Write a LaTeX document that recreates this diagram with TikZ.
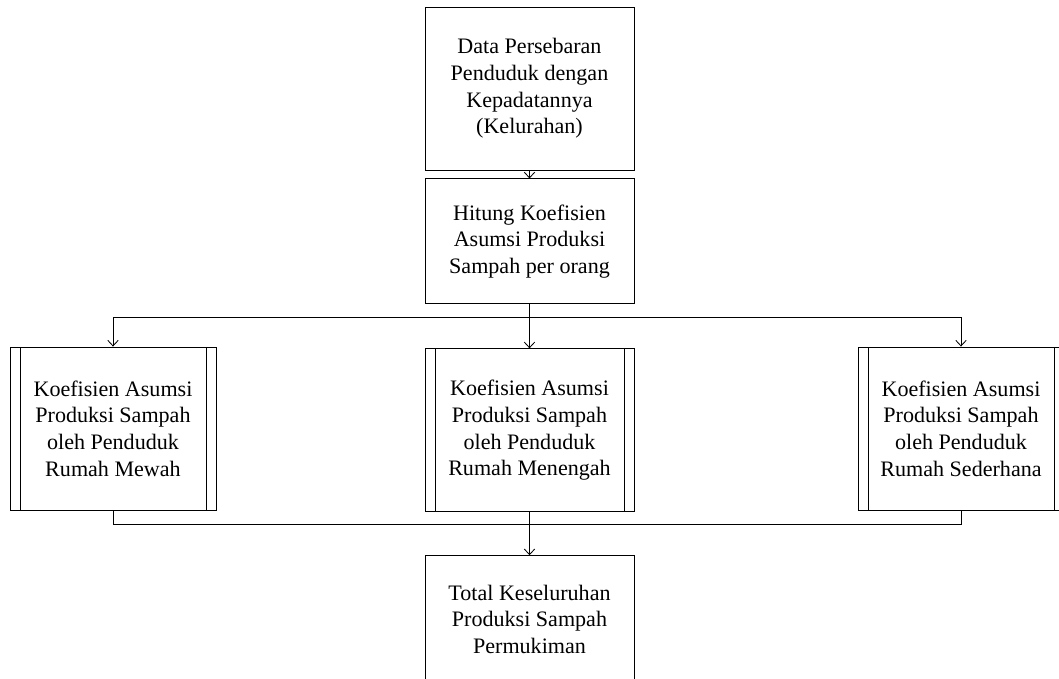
\documentclass[tikz,border=0pt]{standalone}
\usepackage{fontspec}
\setmainfont{Liberation Serif}
\usetikzlibrary{arrows.meta,positioning}

\tikzset{
  procbox/.style={draw, line width=0.6pt, align=center, inner sep=2pt,
    font=\fontsize{15.7}{19}\selectfont},
  subproc/.style={procbox, path picture={
    \draw[line width=0.6pt] ([xshift=0.25cm]path picture bounding box.north west)
      -- ([xshift=0.25cm]path picture bounding box.south west);
    \draw[line width=0.6pt] ([xshift=-0.25cm]path picture bounding box.north east)
      -- ([xshift=-0.25cm]path picture bounding box.south east);}},
  wire/.style={line width=0.6pt},
  arr/.style={wire, -{Straight Barb[length=1.4mm,width=2.6mm]}},
}

\begin{document}
\begin{tikzpicture}[x=0.025cm,y=-0.025cm]
  \useasboundingbox (0,0) rectangle (1059,678);

  % middle column
  \node[procbox, minimum width=5.225cm, minimum height=4.075cm] (data) at (529.5,88.5)
    {Data Persebaran\\Penduduk dengan\\Kepadatannya\\(Kelurahan)};
  \node[procbox, minimum width=5.225cm, minimum height=3.125cm, below=0.2cm of data] (hitung)
    {Hitung Koefisien\\Asumsi Produksi\\Sampah per orang};
  \node[subproc, minimum width=5.225cm, minimum height=4.075cm, below=1.1cm of hitung] (menengah)
    {Koefisien Asumsi\\Produksi Sampah\\oleh Penduduk\\Rumah Menengah};
  \node[procbox, minimum width=5.225cm, minimum height=3.175cm, below=1.075cm of menengah] (total)
    {Total Keseluruhan\\Produksi Sampah\\Permukiman};

  % side boxes
  \node[subproc, minimum width=5.15cm, minimum height=4.075cm] (mewah) at (113,428.5)
    {Koefisien Asumsi\\Produksi Sampah\\oleh Penduduk\\Rumah Mewah};
  \node[subproc, minimum width=5.15cm, minimum height=4.075cm] (sederhana) at (961,428.5)
    {Koefisien Asumsi\\Produksi Sampah\\oleh Penduduk\\Rumah Sederhana};

  % connectors
  \coordinate (split) at (529.5,317);
  \coordinate (join) at (529.5,524);
  \draw[arr] (data) -- (hitung);
  \draw[wire] (hitung) -- (split);
  \draw[arr] (split) -| (mewah);
  \draw[arr] (split) -- (menengah);
  \draw[arr] (split) -| (sederhana);
  \draw[wire] (mewah) |- (join);
  \draw[wire] (sederhana) |- (join);
  \draw[arr] (menengah) -- (total);
\end{tikzpicture}
\end{document}
